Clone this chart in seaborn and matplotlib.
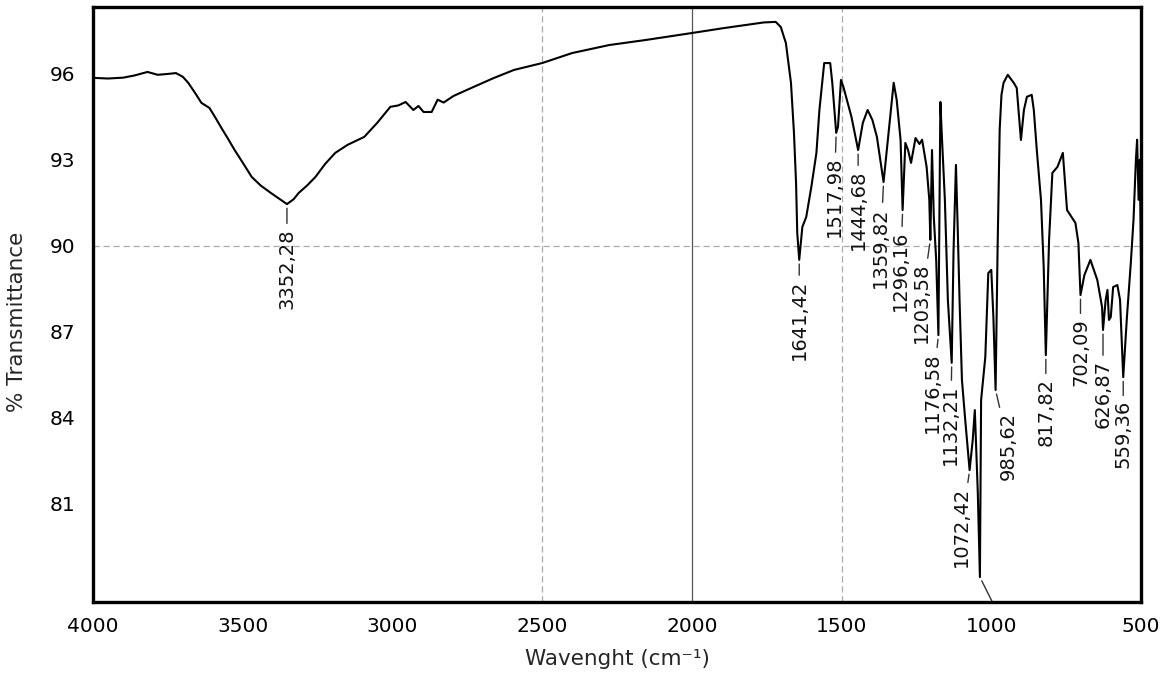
import pandas as pd
import matplotlib.pyplot as plt
import seaborn as sns

# IR spectrum (wavenumber, % transmittance)
wavenumber = [
    4000, 3993, 3950, 3899, 3860, 3818, 3784, 3750, 3723, 3700, 3682, 3660,
    3638, 3611, 3590, 3571, 3550, 3527, 3500, 3470, 3440, 3406, 3380, 3352.28,
    3330, 3313, 3285, 3257, 3225, 3191, 3150, 3094, 3050, 3007, 2980, 2956,
    2930, 2913, 2896, 2869, 2849, 2829, 2796, 2728, 2661, 2594, 2500, 2400,
    2276, 2152, 2000, 1895, 1828, 1760, 1720, 1703, 1686, 1669, 1659, 1652,
    1648, 1641.42, 1631, 1618, 1601, 1584, 1574, 1558, 1538, 1531, 1517.98, 1512,
    1502, 1494, 1467, 1444.68, 1429, 1413, 1397, 1382, 1359.82, 1343, 1326, 1316,
    1303, 1296.16, 1287, 1278, 1268, 1253, 1240, 1231, 1216, 1207, 1203.58, 1198,
    1192, 1184, 1176.58, 1170, 1166, 1155, 1145, 1132.21, 1126, 1118, 1112, 1106,
    1098, 1087, 1072.42, 1062, 1055, 1045, 1038, 1034, 1020, 1010, 1000, 993,
    985.62, 979, 972, 966, 959, 945, 925, 915, 901, 891, 881, 865,
    858, 848, 834, 825, 817.82, 807, 796, 779, 761, 747, 730, 719,
    709, 702.09, 689, 669, 646, 630, 626.87, 618, 612, 607, 601, 593,
    579, 570, 559.36, 547, 534, 525, 517, 513, 508, 504, 500,
]
transmittance = [
    95.85, 95.86, 95.84, 95.87, 95.95, 96.07, 95.97, 96.0, 96.03, 95.9, 95.69, 95.35,
    94.99, 94.81, 94.45, 94.11, 93.75, 93.34, 92.9, 92.4, 92.1, 91.84, 91.65, 91.45,
    91.62, 91.84, 92.1, 92.4, 92.85, 93.24, 93.52, 93.8, 94.3, 94.85, 94.9, 95.02,
    94.74, 94.88, 94.67, 94.67, 95.1, 95.0, 95.23, 95.55, 95.86, 96.14, 96.38, 96.73,
    97.01, 97.19, 97.43, 97.6, 97.7, 97.8, 97.82, 97.64, 97.08, 95.69, 93.94, 92.19,
    90.44, 89.5, 90.65, 91.0, 92.05, 93.24, 94.74, 96.38, 96.38, 95.69, 93.94, 94.15,
    95.79, 95.55, 94.5, 93.34, 94.29, 94.74, 94.39, 93.8, 92.22, 93.94, 95.69, 95.1,
    93.7, 91.24, 93.59, 93.34, 92.89, 93.76, 93.55, 93.7, 92.75, 91.6, 90.2, 93.34,
    91.0, 89.5, 86.87, 95.02, 94.04, 91.6, 88.1, 85.9, 89.85, 92.82, 90.55, 88.1,
    85.3, 83.9, 82.15, 83.2, 84.25, 81.35, 78.41, 84.6, 86.1, 89.04, 89.15, 87.5,
    84.95, 89.85, 94.04, 95.27, 95.69, 95.97, 95.69, 95.51, 93.69, 94.74, 95.2, 95.27,
    94.74, 93.34, 91.59, 89.25, 86.17, 90.2, 92.54, 92.75, 93.24, 91.24, 90.97, 90.79,
    90.09, 88.27, 88.97, 89.5, 88.8, 87.85, 87.05, 88.1, 88.45, 87.4, 87.5, 88.55,
    88.62, 88.1, 85.4, 87.5, 89.4, 90.9, 93.0, 93.7, 91.6, 93.0, 89.5,
]
assert len(wavenumber) == len(transmittance)

# labelled band minima
peak_wn = [3352.28, 1641.42, 1517.98, 1444.68, 1359.82, 1296.16, 1203.58,
           1176.58, 1132.21, 1072.42, 985.62, 817.82, 702.09, 626.87, 559.36]

x_ticks = [4000, 3500, 3000, 2500, 2000, 1500, 1000, 500]
y_ticks = [81, 84, 87, 90, 93, 96]

# label offsets from the peak (pixels): text top sits below the band
label_offset = {
    3352.28: (0, -24), 1641.42: (0, -20), 1517.98: (-2, -24), 1444.68: (0, -20),
    1359.82: (-3, -25), 1296.16: (-2, -21), 1203.58: (-9, -23), 1176.58: (-6, -17),
    1132.21: (-1, -22), 1072.42: (-8, -17), 985.62: (13, -22), 817.82: (0, -23),
    702.09: (0, -23), 626.87: (0, -30), 559.36: (0, -23),
}

df = pd.DataFrame({'wavenumber': wavenumber, 'transmittance': transmittance})

sns.set_style("white")
plt.rcParams['font.family'] = ['DejaVu Sans']

fig = plt.figure(figsize=(11.71, 6.98), dpi=100)
ax = fig.add_axes([93 / 1171, 1 - 602 / 698, 1048 / 1171, 595 / 698])

# grid lines as in the reference
ax.axvline(2000, color='#555555', lw=0.9, zorder=0)
for xv in (2500, 1500):
    ax.axvline(xv, color='#aaaaaa', lw=0.9, ls=(0, (5, 3)), zorder=0)
ax.axhline(90, color='#aaaaaa', lw=0.9, ls=(0, (5, 3)), zorder=0)

sns.lineplot(data=df, x='wavenumber', y='transmittance', ax=ax, sort=False,
             estimator=None, color='black', lw=1.5)

ax.set_xlim(4000, 500)
ax.set_ylim(77.54, 98.34)
ax.set_xticks(x_ticks)
ax.set_yticks(y_ticks)

for s in ax.spines.values():
    s.set_linewidth(2.4)
    s.set_color('black')
ax.tick_params(direction='inout', length=15, width=2, labelsize=14.5,
               colors='black')
ax.tick_params(axis='x', pad=3)
ax.tick_params(axis='y', pad=5)

ax.set_xlabel('Wavenght (cm⁻¹)', fontsize=15.5, labelpad=10)
ax.set_ylabel('% Transmittance', fontsize=15.5, labelpad=8)
ax.yaxis.set_label_coords(-0.063, 0.47)

lookup = dict(zip(wavenumber, transmittance))
for wn in peak_wn:
    dx, dy = label_offset[wn]
    ax.annotate(f"{wn:.2f}".replace('.', ','), xy=(wn, lookup[wn]),
                xytext=(dx, dy), textcoords='offset pixels',
                rotation=90, ha='center', va='top', fontsize=14,
                color='#111111',
                arrowprops=dict(arrowstyle='-', color='#333333', lw=1,
                                shrinkA=1, shrinkB=3))

# connector of the deepest band, its label falls outside the frame
ax.annotate('', xy=(1038, lookup[1038]), xytext=(12, -24),
            textcoords='offset pixels', annotation_clip=False,
            arrowprops=dict(arrowstyle='-', color='#333333', lw=1,
                            shrinkA=0, shrinkB=3))

plt.savefig('out.png', dpi=100)
